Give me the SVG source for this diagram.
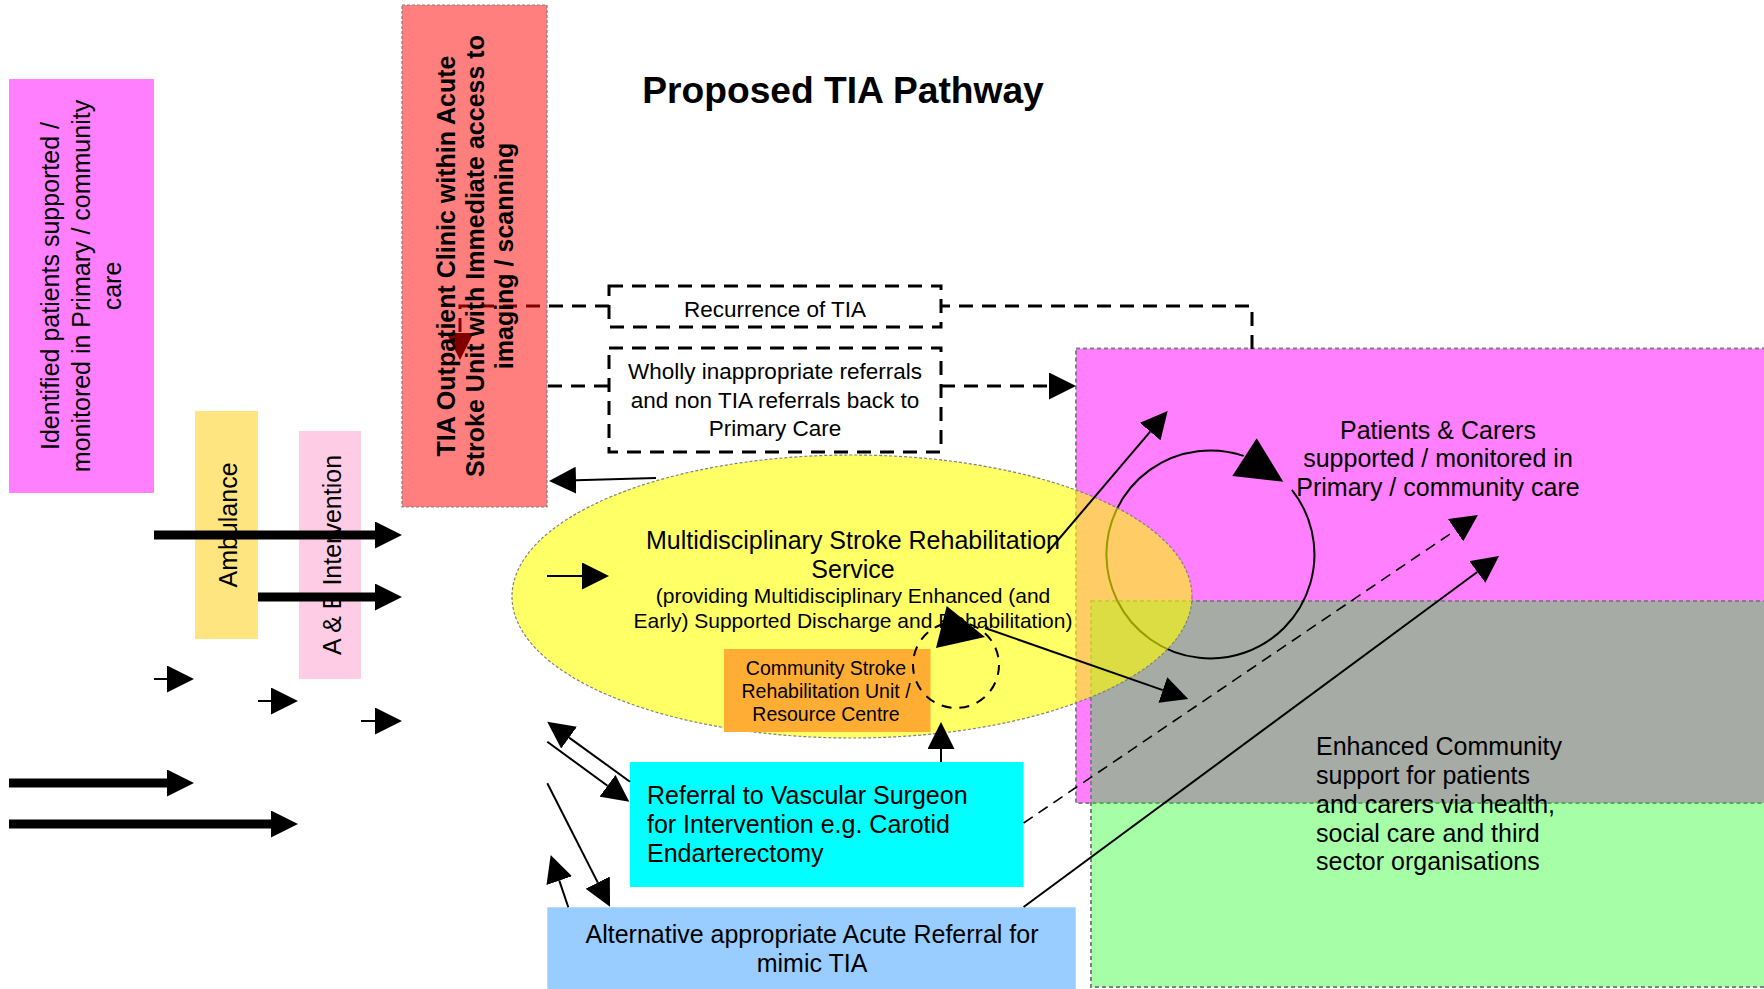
<svg xmlns="http://www.w3.org/2000/svg" width="1764" height="989" viewBox="0 0 1764 989">
<style>
text{font-family:"Liberation Sans",Arial,sans-serif;fill:#000}
.t25{font-size:25px}
.t22{font-size:22.5px}
.t21{font-size:21px}
.t20{font-size:19.5px}
.b{font-weight:bold}
.mid{text-anchor:middle}
.ln{fill:none;stroke:#000;stroke-width:2}
.thick{fill:none;stroke:#000;stroke-width:9}
.dsh{fill:none;stroke:#000;stroke-width:3;stroke-dasharray:14 9}
.dthin{fill:none;stroke:#000;stroke-width:1.6;stroke-dasharray:11 7}
.dcirc{fill:none;stroke:#000;stroke-width:2;stroke-dasharray:10 8}
.gb{stroke:#808080;stroke-width:1.2;stroke-dasharray:3 2}
.gd{stroke:#808080;stroke-width:2;stroke-dasharray:4 3}
</style>
<defs>
<marker id="ah" viewBox="0 0 27 27" refX="0" refY="13.5" markerWidth="27" markerHeight="27" markerUnits="userSpaceOnUse" orient="auto"><path d="M0,0 L27,13.5 L0,27 Z" fill="#000"/></marker>
</defs>
<rect width="1764" height="989" fill="#fff"/>

<g id="patients-carers">
<rect x="1076" y="348.5" width="700" height="454.5" fill="#FF00FF" fill-opacity="0.5" class="gd"/>
<text class="t25 mid"><tspan x="1438" y="438.5">Patients &amp; Carers</tspan><tspan x="1438" y="467">supported / monitored in</tspan><tspan x="1438" y="496">Primary / community care</tspan></text>
</g>
<g id="enhanced-community">
<rect x="1091" y="601" width="700" height="386" fill="#00FF00" fill-opacity="0.35" class="gd"/>
<text class="t25"><tspan x="1316" y="755">Enhanced Community</tspan><tspan x="1316" y="784">support for patients</tspan><tspan x="1316" y="813">and carers via health,</tspan><tspan x="1316" y="841.5">social care and third</tspan><tspan x="1316" y="870">sector organisations</tspan></text>
</g>

<g id="connectors-back">
<path class="dsh" d="M1252,349 V306 H941"/>
<path class="dsh" d="M609,306 H460 V333" marker-end="url(#ah)"/>
<path class="ln" d="M1291.9,489.8 A104,104 0 1 1 1243.7,455.9"/>
<polygon points="1256.7,438.3 1232.3,476 1283.3,481.7" fill="#000"/>
</g>

<g id="title">
<text class="b mid" x="843" y="103" font-size="37.2">Proposed TIA Pathway</text>
</g>

<g id="identified-patients">
<rect x="9" y="79" width="145" height="414" fill="#FF00FF" fill-opacity="0.5"/>
<text class="t25 mid" transform="translate(0,286) rotate(-90)"><tspan x="0" y="59">Identified patients supported /</tspan><tspan x="0" y="90">monitored in Primary / community</tspan><tspan x="0" y="121">care</tspan></text>
</g>

<g id="ambulance">
<rect x="195" y="411" width="63" height="228" fill="#FFCC00" fill-opacity="0.5"/>
<text class="t25 mid" transform="translate(237,525) rotate(-90)">Ambulance</text>
</g>

<g id="ae-intervention">
<rect x="299" y="431" width="62" height="248" fill="#FF99CC" fill-opacity="0.5"/>
<text class="t25 mid" transform="translate(341,555) rotate(-90)">A &amp; E Intervention</text>
</g>

<g id="tia-clinic">
<rect x="402" y="5" width="145" height="502" fill="#FF0000" fill-opacity="0.5" class="gb"/>
<text class="t25 b mid" transform="translate(0,256) rotate(-90)"><tspan x="0" y="455">TIA Outpatient Clinic within Acute</tspan><tspan x="0" y="484">Stroke Unit with Immediate access to</tspan><tspan x="0" y="513">imaging / scanning</tspan></text>
</g>

<g id="recurrence">
<rect x="609" y="286" width="332" height="41" fill="#fff" class="dsh"/>
<text class="t22 mid" x="775" y="317">Recurrence of TIA</text>
</g>

<g id="wholly-inappropriate">
<rect x="609" y="348" width="332" height="104" fill="#fff" class="dsh"/>
<text class="t22 mid"><tspan x="775" y="379">Wholly inappropriate referrals</tspan><tspan x="775" y="408">and non TIA referrals back to</tspan><tspan x="775" y="436">Primary Care</tspan></text>
</g>

<g id="rehab-service">
<ellipse cx="852" cy="596.5" rx="340" ry="141.5" fill="#FFFF00" fill-opacity="0.6" class="gb"/>
<text class="t25 mid"><tspan x="853" y="549">Multidisciplinary Stroke Rehabilitation</tspan><tspan x="853" y="578">Service</tspan></text>
<text class="t21 mid"><tspan x="853" y="603">(providing Multidisciplinary Enhanced (and</tspan><tspan x="853" y="628">Early) Supported Discharge and Rehabilitation)</tspan></text>
</g>

<g id="community-unit">
<rect x="724" y="649" width="206.5" height="83" fill="#FFAD33"/>
<text class="t20 mid"><tspan x="826" y="675">Community Stroke</tspan><tspan x="826" y="698">Rehabilitation Unit /</tspan><tspan x="826" y="721">Resource Centre</tspan></text>
</g>

<g id="vascular-referral">
<rect x="630" y="762" width="393.6" height="125" fill="#00FFFF"/>
<text class="t25"><tspan x="647" y="804">Referral to Vascular Surgeon</tspan><tspan x="647" y="833">for Intervention e.g. Carotid</tspan><tspan x="647" y="862">Endarterectomy</tspan></text>
</g>

<g id="alternative-referral">
<rect x="547.3" y="907.3" width="528.4" height="90" fill="#99CCFF"/>
<text class="t25 mid"><tspan x="812" y="943">Alternative appropriate Acute Referral for</tspan><tspan x="812" y="972">mimic TIA</tspan></text>
</g>

<g id="connectors">
<path class="thick" d="M154,535 H375" marker-end="url(#ah)"/>
<path class="thick" d="M258,597 H375" marker-end="url(#ah)"/>
<path class="thick" d="M9,783 H167" marker-end="url(#ah)"/>
<path class="thick" d="M9,824 H271" marker-end="url(#ah)"/>
<path class="ln" d="M154,679 H167" marker-end="url(#ah)"/>
<path class="ln" d="M258,701 H271" marker-end="url(#ah)"/>
<path class="ln" d="M361,721 H375" marker-end="url(#ah)"/>
<path class="ln" d="M547,576 H582" marker-end="url(#ah)"/>
<path class="ln" d="M656,478 L576,480.2" marker-end="url(#ah)"/>
<path class="dsh" d="M548,386 H609"/>
<path class="dsh" d="M941,386 H1049" marker-end="url(#ah)"/>
<path class="ln" d="M941,762 V749" marker-end="url(#ah)"/>
<path class="ln" d="M1047,553 L1150.2,431.6" marker-end="url(#ah)"/>
<path class="ln" d="M985,628 L1162.8,690.1" marker-end="url(#ah)"/>
<circle class="dcirc" cx="956" cy="665" r="43"/>
<polygon points="946.7,606 936,648 985,637" fill="#000"/>
<path class="dthin" d="M1023.6,823 L1455.6,530.2" marker-end="url(#ah)"/>
<path class="ln" d="M1023.6,907 L1477.3,572" marker-end="url(#ah)"/>
<path class="ln" d="M630,781.7 L569.1,737.6" marker-end="url(#ah)"/>
<path class="ln" d="M547.3,741.7 L607.5,785.8" marker-end="url(#ah)"/>
<path class="ln" d="M547.3,783.3 L597.8,882.6" marker-end="url(#ah)"/>
<path class="ln" d="M568.3,907.3 L559.3,880.6" marker-end="url(#ah)"/>
</g>
</svg>
